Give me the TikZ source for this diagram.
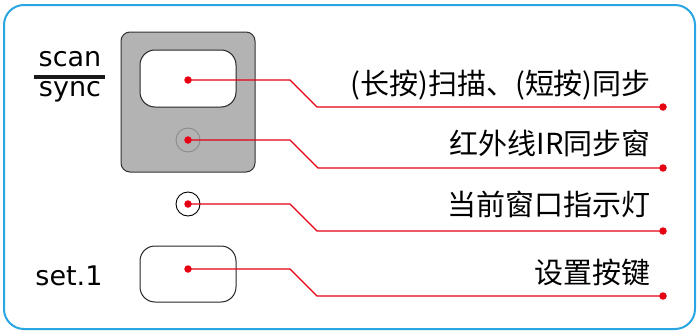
\documentclass[tikz,border=0pt]{standalone}
\usepackage{fontspec}
\newfontfamily\cjk{Noto Sans CJK SC}
\newfontfamily\lat{DejaVu Sans}
\definecolor{frameblue}{HTML}{2AA6E2}
\definecolor{leadred}{HTML}{E60012}
\definecolor{panelgray}{HTML}{B3B3B3}
\begin{document}
\begin{tikzpicture}[x=1pt,y=-1pt,
  frame/.style={draw=frameblue,line width=2pt,rounded corners=20pt},
  panel/.style={draw=black!80,fill=panelgray,line width=1pt,rounded corners=9pt},
  keybox/.style={draw=black!85,fill=white,line width=1pt,rounded corners=15pt},
  ring/.style={circle,draw,line width=0.9pt,minimum size=24pt,inner sep=0pt},
  dot/.style={circle,fill=leadred,minimum size=7.5pt,inner sep=0pt},
  lead/.style={draw=leadred,line width=1.2pt},
  label/.style={anchor=east,inner sep=0pt,font=\cjk\fontsize{29}{32}\selectfont},
  side/.style={anchor=base,inner sep=0pt,font=\lat\fontsize{27}{30}\selectfont}]
\useasboundingbox (0,0) rectangle (697,332);
\draw[frame] (4,5) rectangle (695,329);
% panel
\draw[panel] (121,32) rectangle (255,172);
\draw[keybox] (140,50) rectangle (236,107);
\node[ring,draw=black!45] (ir) at (188,140) {};
\node[ring,draw=black] (ind) at (188,204) {};
\draw[keybox] (140,246) rectangle (236,302);
% left labels
\node[side] (scan) at (70,66) {scan};
\draw[line width=4pt,draw=black!90] (34,77) -- (105,77);
\node[side] (sync) at (70,96) {sync};
\node[side] (set) at (69,285) {set.1};
% dots
\node[dot] (d1) at (188,80) {};
\node[dot] (d2) at (188,140) {};
\node[dot] (d3) at (188,204) {};
\node[dot] (d4) at (188,269) {};
\node[dot] (e1) at (663,107) {};
\node[dot] (e2) at (663,168) {};
\node[dot] (e3) at (663,231) {};
\node[dot] (e4) at (663,296) {};
% leaders
\draw[lead] (d1.center) -- (290,80) -- (317,107) -- (e1.center);
\draw[lead] (d2.center) -- (290,140) -- (318,168) -- (e2.center);
\draw[lead] (d3.center) -- (290,204) -- (317,231) -- (e3.center);
\draw[lead] (d4.center) -- (290,269) -- (317,296) -- (e4.center);
% right labels
\node[label] (t1) at (651,85) {(长按)扫描、(短按)同步};
\node[label] (t2) at (651,143) {红外线IR同步窗};
\node[label] (t3) at (651,204) {当前窗口指示灯};
\node[label] (t4) at (651,272) {设置按键};
\end{tikzpicture}
\end{document}
